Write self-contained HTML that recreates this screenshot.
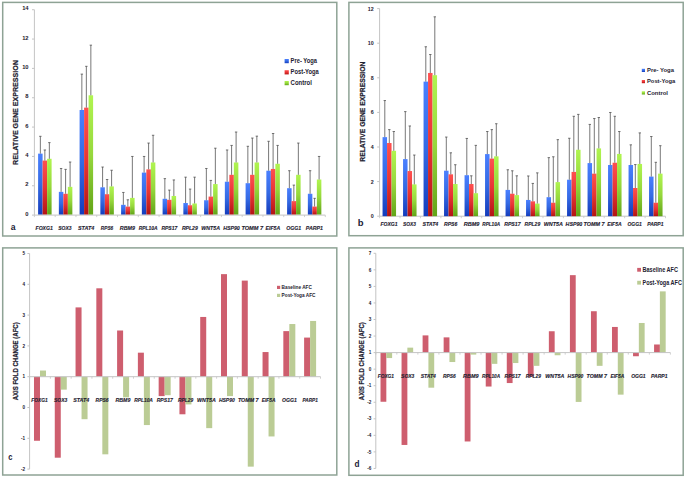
<!DOCTYPE html>
<html><head><meta charset="utf-8"><title>Gene expression charts</title>
<style>
html,body{margin:0;padding:0;background:#fff;}
body{width:685px;height:478px;overflow:hidden;}
svg{display:block;font-family:"Liberation Sans", sans-serif;}
</style></head>
<body>
<svg width="685" height="478" viewBox="0 0 685 478">
<rect x="0" y="0" width="685" height="478" fill="#fff"/>
<defs>
<linearGradient id="gb" x1="0" y1="0" x2="0" y2="1"><stop offset="0" stop-color="#4a80ff"/><stop offset="0.5" stop-color="#346ae4"/><stop offset="1" stop-color="#143cbc"/></linearGradient>
<linearGradient id="gr" x1="0" y1="0" x2="0" y2="1"><stop offset="0" stop-color="#ff5050"/><stop offset="0.5" stop-color="#e83434"/><stop offset="1" stop-color="#b21414"/></linearGradient>
<linearGradient id="gg" x1="0" y1="0" x2="0" y2="1"><stop offset="0" stop-color="#b0f550"/><stop offset="0.5" stop-color="#96d83c"/><stop offset="1" stop-color="#62a418"/></linearGradient>
</defs>
<rect x="2.7" y="2.4" width="334.1" height="233.6" fill="none" stroke="#8ea395" stroke-width="1.5"/>
<rect x="348.9" y="2.4" width="334.30000000000007" height="233.29999999999998" fill="none" stroke="#8ea395" stroke-width="1.5"/>
<rect x="2.7" y="247.9" width="334.1" height="227.1" fill="none" stroke="#8ea395" stroke-width="1.5"/>
<rect x="348.9" y="247.9" width="334.30000000000007" height="227.4" fill="none" stroke="#8ea395" stroke-width="1.5"/>
<line x1="34.40" y1="9.72" x2="34.40" y2="215.10" stroke="#c4c4c4" stroke-width="1"/>
<line x1="32.00" y1="215.10" x2="34.40" y2="215.10" stroke="#c4c4c4" stroke-width="1"/>
<text x="28.60" y="215.69" font-size="5.8" font-weight="bold" text-anchor="end" fill="#1e2130">0</text>
<line x1="32.00" y1="185.76" x2="34.40" y2="185.76" stroke="#c4c4c4" stroke-width="1"/>
<text x="28.60" y="186.35" font-size="5.8" font-weight="bold" text-anchor="end" fill="#1e2130">2</text>
<line x1="32.00" y1="156.42" x2="34.40" y2="156.42" stroke="#c4c4c4" stroke-width="1"/>
<text x="28.60" y="157.01" font-size="5.8" font-weight="bold" text-anchor="end" fill="#1e2130">4</text>
<line x1="32.00" y1="127.08" x2="34.40" y2="127.08" stroke="#c4c4c4" stroke-width="1"/>
<text x="28.60" y="127.67" font-size="5.8" font-weight="bold" text-anchor="end" fill="#1e2130">6</text>
<line x1="32.00" y1="97.74" x2="34.40" y2="97.74" stroke="#c4c4c4" stroke-width="1"/>
<text x="28.60" y="98.33" font-size="5.8" font-weight="bold" text-anchor="end" fill="#1e2130">8</text>
<line x1="32.00" y1="68.40" x2="34.40" y2="68.40" stroke="#c4c4c4" stroke-width="1"/>
<text x="28.60" y="68.99" font-size="5.8" font-weight="bold" text-anchor="end" fill="#1e2130">10</text>
<line x1="32.00" y1="39.06" x2="34.40" y2="39.06" stroke="#c4c4c4" stroke-width="1"/>
<text x="28.60" y="39.65" font-size="5.8" font-weight="bold" text-anchor="end" fill="#1e2130">12</text>
<line x1="32.00" y1="9.72" x2="34.40" y2="9.72" stroke="#c4c4c4" stroke-width="1"/>
<text x="28.60" y="10.31" font-size="5.8" font-weight="bold" text-anchor="end" fill="#1e2130">14</text>
<line x1="34.40" y1="215.10" x2="325.30" y2="215.10" stroke="#c4c4c4" stroke-width="1"/>
<line x1="34.40" y1="215.10" x2="34.40" y2="217.10" stroke="#c4c4c4" stroke-width="0.8"/>
<line x1="55.18" y1="215.10" x2="55.18" y2="217.10" stroke="#c4c4c4" stroke-width="0.8"/>
<line x1="75.96" y1="215.10" x2="75.96" y2="217.10" stroke="#c4c4c4" stroke-width="0.8"/>
<line x1="96.74" y1="215.10" x2="96.74" y2="217.10" stroke="#c4c4c4" stroke-width="0.8"/>
<line x1="117.51" y1="215.10" x2="117.51" y2="217.10" stroke="#c4c4c4" stroke-width="0.8"/>
<line x1="138.29" y1="215.10" x2="138.29" y2="217.10" stroke="#c4c4c4" stroke-width="0.8"/>
<line x1="159.07" y1="215.10" x2="159.07" y2="217.10" stroke="#c4c4c4" stroke-width="0.8"/>
<line x1="179.85" y1="215.10" x2="179.85" y2="217.10" stroke="#c4c4c4" stroke-width="0.8"/>
<line x1="200.63" y1="215.10" x2="200.63" y2="217.10" stroke="#c4c4c4" stroke-width="0.8"/>
<line x1="221.41" y1="215.10" x2="221.41" y2="217.10" stroke="#c4c4c4" stroke-width="0.8"/>
<line x1="242.19" y1="215.10" x2="242.19" y2="217.10" stroke="#c4c4c4" stroke-width="0.8"/>
<line x1="262.96" y1="215.10" x2="262.96" y2="217.10" stroke="#c4c4c4" stroke-width="0.8"/>
<line x1="283.74" y1="215.10" x2="283.74" y2="217.10" stroke="#c4c4c4" stroke-width="0.8"/>
<line x1="304.52" y1="215.10" x2="304.52" y2="217.10" stroke="#c4c4c4" stroke-width="0.8"/>
<line x1="325.30" y1="215.10" x2="325.30" y2="217.10" stroke="#c4c4c4" stroke-width="0.8"/>
<rect x="38.10" y="153.64" width="4.50" height="60.86" fill="url(#gb)"/>
<rect x="42.60" y="160.55" width="4.50" height="53.95" fill="url(#gr)"/>
<rect x="47.10" y="158.79" width="4.50" height="55.71" fill="url(#gg)"/>
<line x1="40.35" y1="153.64" x2="40.35" y2="136.30" stroke="#4a4a4a" stroke-width="0.75"/>
<line x1="39.15" y1="136.30" x2="41.55" y2="136.30" stroke="#4a4a4a" stroke-width="0.75"/>
<line x1="44.85" y1="160.55" x2="44.85" y2="149.97" stroke="#4a4a4a" stroke-width="0.75"/>
<line x1="43.65" y1="149.97" x2="46.05" y2="149.97" stroke="#4a4a4a" stroke-width="0.75"/>
<line x1="49.35" y1="158.79" x2="49.35" y2="142.62" stroke="#4a4a4a" stroke-width="0.75"/>
<line x1="48.15" y1="142.62" x2="50.55" y2="142.62" stroke="#4a4a4a" stroke-width="0.75"/>
<rect x="58.85" y="191.86" width="4.50" height="22.64" fill="url(#gb)"/>
<rect x="63.35" y="193.77" width="4.50" height="20.73" fill="url(#gr)"/>
<rect x="67.85" y="186.86" width="4.50" height="27.64" fill="url(#gg)"/>
<line x1="61.10" y1="191.86" x2="61.10" y2="168.49" stroke="#4a4a4a" stroke-width="0.75"/>
<line x1="59.90" y1="168.49" x2="62.30" y2="168.49" stroke="#4a4a4a" stroke-width="0.75"/>
<line x1="65.60" y1="193.77" x2="65.60" y2="169.37" stroke="#4a4a4a" stroke-width="0.75"/>
<line x1="64.40" y1="169.37" x2="66.80" y2="169.37" stroke="#4a4a4a" stroke-width="0.75"/>
<line x1="70.10" y1="186.86" x2="70.10" y2="162.02" stroke="#4a4a4a" stroke-width="0.75"/>
<line x1="68.90" y1="162.02" x2="71.30" y2="162.02" stroke="#4a4a4a" stroke-width="0.75"/>
<rect x="79.60" y="109.98" width="4.50" height="104.52" fill="url(#gb)"/>
<rect x="84.10" y="107.63" width="4.50" height="106.87" fill="url(#gr)"/>
<rect x="88.60" y="95.28" width="4.50" height="119.22" fill="url(#gg)"/>
<line x1="81.85" y1="109.98" x2="81.85" y2="74.12" stroke="#4a4a4a" stroke-width="0.75"/>
<line x1="80.65" y1="74.12" x2="83.05" y2="74.12" stroke="#4a4a4a" stroke-width="0.75"/>
<line x1="86.35" y1="107.63" x2="86.35" y2="66.32" stroke="#4a4a4a" stroke-width="0.75"/>
<line x1="85.15" y1="66.32" x2="87.55" y2="66.32" stroke="#4a4a4a" stroke-width="0.75"/>
<line x1="90.85" y1="95.28" x2="90.85" y2="45.16" stroke="#4a4a4a" stroke-width="0.75"/>
<line x1="89.65" y1="45.16" x2="92.05" y2="45.16" stroke="#4a4a4a" stroke-width="0.75"/>
<rect x="100.35" y="187.31" width="4.50" height="27.19" fill="url(#gb)"/>
<rect x="104.85" y="194.21" width="4.50" height="20.29" fill="url(#gr)"/>
<rect x="109.35" y="186.42" width="4.50" height="28.08" fill="url(#gg)"/>
<line x1="102.60" y1="187.31" x2="102.60" y2="167.02" stroke="#4a4a4a" stroke-width="0.75"/>
<line x1="101.40" y1="167.02" x2="103.80" y2="167.02" stroke="#4a4a4a" stroke-width="0.75"/>
<line x1="107.10" y1="194.21" x2="107.10" y2="179.51" stroke="#4a4a4a" stroke-width="0.75"/>
<line x1="105.90" y1="179.51" x2="108.30" y2="179.51" stroke="#4a4a4a" stroke-width="0.75"/>
<line x1="111.60" y1="186.42" x2="111.60" y2="170.25" stroke="#4a4a4a" stroke-width="0.75"/>
<line x1="110.40" y1="170.25" x2="112.80" y2="170.25" stroke="#4a4a4a" stroke-width="0.75"/>
<rect x="121.10" y="204.80" width="4.50" height="9.70" fill="url(#gb)"/>
<rect x="125.60" y="206.56" width="4.50" height="7.94" fill="url(#gr)"/>
<rect x="130.10" y="197.89" width="4.50" height="16.61" fill="url(#gg)"/>
<line x1="123.35" y1="204.80" x2="123.35" y2="192.45" stroke="#4a4a4a" stroke-width="0.75"/>
<line x1="122.15" y1="192.45" x2="124.55" y2="192.45" stroke="#4a4a4a" stroke-width="0.75"/>
<line x1="127.85" y1="206.56" x2="127.85" y2="199.80" stroke="#4a4a4a" stroke-width="0.75"/>
<line x1="126.65" y1="199.80" x2="129.05" y2="199.80" stroke="#4a4a4a" stroke-width="0.75"/>
<line x1="132.35" y1="197.89" x2="132.35" y2="156.44" stroke="#4a4a4a" stroke-width="0.75"/>
<line x1="131.15" y1="156.44" x2="133.55" y2="156.44" stroke="#4a4a4a" stroke-width="0.75"/>
<rect x="141.85" y="172.61" width="4.50" height="41.89" fill="url(#gb)"/>
<rect x="146.35" y="169.37" width="4.50" height="45.13" fill="url(#gr)"/>
<rect x="150.85" y="162.46" width="4.50" height="52.04" fill="url(#gg)"/>
<line x1="144.10" y1="172.61" x2="144.10" y2="156.44" stroke="#4a4a4a" stroke-width="0.75"/>
<line x1="142.90" y1="156.44" x2="145.30" y2="156.44" stroke="#4a4a4a" stroke-width="0.75"/>
<line x1="148.60" y1="169.37" x2="148.60" y2="143.06" stroke="#4a4a4a" stroke-width="0.75"/>
<line x1="147.40" y1="143.06" x2="149.80" y2="143.06" stroke="#4a4a4a" stroke-width="0.75"/>
<line x1="153.10" y1="162.46" x2="153.10" y2="135.27" stroke="#4a4a4a" stroke-width="0.75"/>
<line x1="151.90" y1="135.27" x2="154.30" y2="135.27" stroke="#4a4a4a" stroke-width="0.75"/>
<rect x="162.60" y="198.77" width="4.50" height="15.73" fill="url(#gb)"/>
<rect x="167.10" y="199.80" width="4.50" height="14.70" fill="url(#gr)"/>
<rect x="171.60" y="195.98" width="4.50" height="18.52" fill="url(#gg)"/>
<line x1="164.85" y1="198.77" x2="164.85" y2="178.63" stroke="#4a4a4a" stroke-width="0.75"/>
<line x1="163.65" y1="178.63" x2="166.05" y2="178.63" stroke="#4a4a4a" stroke-width="0.75"/>
<line x1="169.35" y1="199.80" x2="169.35" y2="190.10" stroke="#4a4a4a" stroke-width="0.75"/>
<line x1="168.15" y1="190.10" x2="170.55" y2="190.10" stroke="#4a4a4a" stroke-width="0.75"/>
<line x1="173.85" y1="195.98" x2="173.85" y2="179.95" stroke="#4a4a4a" stroke-width="0.75"/>
<line x1="172.65" y1="179.95" x2="175.05" y2="179.95" stroke="#4a4a4a" stroke-width="0.75"/>
<rect x="183.35" y="203.03" width="4.50" height="11.47" fill="url(#gb)"/>
<rect x="187.85" y="205.24" width="4.50" height="9.26" fill="url(#gr)"/>
<rect x="192.35" y="203.47" width="4.50" height="11.03" fill="url(#gg)"/>
<line x1="185.60" y1="203.03" x2="185.60" y2="177.16" stroke="#4a4a4a" stroke-width="0.75"/>
<line x1="184.40" y1="177.16" x2="186.80" y2="177.16" stroke="#4a4a4a" stroke-width="0.75"/>
<line x1="190.10" y1="205.24" x2="190.10" y2="189.07" stroke="#4a4a4a" stroke-width="0.75"/>
<line x1="188.90" y1="189.07" x2="191.30" y2="189.07" stroke="#4a4a4a" stroke-width="0.75"/>
<line x1="194.60" y1="203.47" x2="194.60" y2="177.16" stroke="#4a4a4a" stroke-width="0.75"/>
<line x1="193.40" y1="177.16" x2="195.80" y2="177.16" stroke="#4a4a4a" stroke-width="0.75"/>
<rect x="204.10" y="200.24" width="4.50" height="14.26" fill="url(#gb)"/>
<rect x="208.60" y="196.57" width="4.50" height="17.93" fill="url(#gr)"/>
<rect x="213.10" y="184.07" width="4.50" height="30.43" fill="url(#gg)"/>
<line x1="206.35" y1="200.24" x2="206.35" y2="168.49" stroke="#4a4a4a" stroke-width="0.75"/>
<line x1="205.15" y1="168.49" x2="207.55" y2="168.49" stroke="#4a4a4a" stroke-width="0.75"/>
<line x1="210.85" y1="196.57" x2="210.85" y2="180.40" stroke="#4a4a4a" stroke-width="0.75"/>
<line x1="209.65" y1="180.40" x2="212.05" y2="180.40" stroke="#4a4a4a" stroke-width="0.75"/>
<line x1="215.35" y1="184.07" x2="215.35" y2="148.20" stroke="#4a4a4a" stroke-width="0.75"/>
<line x1="214.15" y1="148.20" x2="216.55" y2="148.20" stroke="#4a4a4a" stroke-width="0.75"/>
<rect x="224.85" y="181.72" width="4.50" height="32.78" fill="url(#gb)"/>
<rect x="229.35" y="174.81" width="4.50" height="39.69" fill="url(#gr)"/>
<rect x="233.85" y="162.46" width="4.50" height="52.04" fill="url(#gg)"/>
<line x1="227.10" y1="181.72" x2="227.10" y2="149.97" stroke="#4a4a4a" stroke-width="0.75"/>
<line x1="225.90" y1="149.97" x2="228.30" y2="149.97" stroke="#4a4a4a" stroke-width="0.75"/>
<line x1="231.60" y1="174.81" x2="231.60" y2="145.41" stroke="#4a4a4a" stroke-width="0.75"/>
<line x1="230.40" y1="145.41" x2="232.80" y2="145.41" stroke="#4a4a4a" stroke-width="0.75"/>
<line x1="236.10" y1="162.46" x2="236.10" y2="132.03" stroke="#4a4a4a" stroke-width="0.75"/>
<line x1="234.90" y1="132.03" x2="237.30" y2="132.03" stroke="#4a4a4a" stroke-width="0.75"/>
<rect x="245.60" y="183.19" width="4.50" height="31.31" fill="url(#gb)"/>
<rect x="250.10" y="174.81" width="4.50" height="39.69" fill="url(#gr)"/>
<rect x="254.60" y="162.46" width="4.50" height="52.04" fill="url(#gg)"/>
<line x1="247.85" y1="183.19" x2="247.85" y2="146.29" stroke="#4a4a4a" stroke-width="0.75"/>
<line x1="246.65" y1="146.29" x2="249.05" y2="146.29" stroke="#4a4a4a" stroke-width="0.75"/>
<line x1="252.35" y1="174.81" x2="252.35" y2="138.06" stroke="#4a4a4a" stroke-width="0.75"/>
<line x1="251.15" y1="138.06" x2="253.55" y2="138.06" stroke="#4a4a4a" stroke-width="0.75"/>
<line x1="256.85" y1="162.46" x2="256.85" y2="136.15" stroke="#4a4a4a" stroke-width="0.75"/>
<line x1="255.65" y1="136.15" x2="258.05" y2="136.15" stroke="#4a4a4a" stroke-width="0.75"/>
<rect x="266.35" y="170.69" width="4.50" height="43.81" fill="url(#gb)"/>
<rect x="270.85" y="168.93" width="4.50" height="45.57" fill="url(#gr)"/>
<rect x="275.35" y="163.78" width="4.50" height="50.72" fill="url(#gg)"/>
<line x1="268.60" y1="170.69" x2="268.60" y2="141.29" stroke="#4a4a4a" stroke-width="0.75"/>
<line x1="267.40" y1="141.29" x2="269.80" y2="141.29" stroke="#4a4a4a" stroke-width="0.75"/>
<line x1="273.10" y1="168.93" x2="273.10" y2="133.50" stroke="#4a4a4a" stroke-width="0.75"/>
<line x1="271.90" y1="133.50" x2="274.30" y2="133.50" stroke="#4a4a4a" stroke-width="0.75"/>
<line x1="277.60" y1="163.78" x2="277.60" y2="145.41" stroke="#4a4a4a" stroke-width="0.75"/>
<line x1="276.40" y1="145.41" x2="278.80" y2="145.41" stroke="#4a4a4a" stroke-width="0.75"/>
<rect x="287.10" y="188.19" width="4.50" height="26.31" fill="url(#gb)"/>
<rect x="291.60" y="201.12" width="4.50" height="13.38" fill="url(#gr)"/>
<rect x="296.10" y="174.81" width="4.50" height="39.69" fill="url(#gg)"/>
<line x1="289.35" y1="188.19" x2="289.35" y2="170.69" stroke="#4a4a4a" stroke-width="0.75"/>
<line x1="288.15" y1="170.69" x2="290.55" y2="170.69" stroke="#4a4a4a" stroke-width="0.75"/>
<line x1="293.85" y1="201.12" x2="293.85" y2="185.10" stroke="#4a4a4a" stroke-width="0.75"/>
<line x1="292.65" y1="185.10" x2="295.05" y2="185.10" stroke="#4a4a4a" stroke-width="0.75"/>
<line x1="298.35" y1="174.81" x2="298.35" y2="143.06" stroke="#4a4a4a" stroke-width="0.75"/>
<line x1="297.15" y1="143.06" x2="299.55" y2="143.06" stroke="#4a4a4a" stroke-width="0.75"/>
<rect x="307.85" y="193.77" width="4.50" height="20.73" fill="url(#gb)"/>
<rect x="312.35" y="206.56" width="4.50" height="7.94" fill="url(#gr)"/>
<rect x="316.85" y="179.51" width="4.50" height="34.99" fill="url(#gg)"/>
<line x1="310.10" y1="193.77" x2="310.10" y2="170.69" stroke="#4a4a4a" stroke-width="0.75"/>
<line x1="308.90" y1="170.69" x2="311.30" y2="170.69" stroke="#4a4a4a" stroke-width="0.75"/>
<line x1="314.60" y1="206.56" x2="314.60" y2="198.33" stroke="#4a4a4a" stroke-width="0.75"/>
<line x1="313.40" y1="198.33" x2="315.80" y2="198.33" stroke="#4a4a4a" stroke-width="0.75"/>
<line x1="319.10" y1="179.51" x2="319.10" y2="156.44" stroke="#4a4a4a" stroke-width="0.75"/>
<line x1="317.90" y1="156.44" x2="320.30" y2="156.44" stroke="#4a4a4a" stroke-width="0.75"/>
<line x1="379.60" y1="8.60" x2="379.60" y2="216.20" stroke="#c4c4c4" stroke-width="1"/>
<line x1="377.20" y1="216.20" x2="379.60" y2="216.20" stroke="#c4c4c4" stroke-width="1"/>
<text x="373.60" y="218.11" font-size="5.3" font-weight="bold" text-anchor="end" fill="#1e2130">0</text>
<line x1="377.20" y1="181.60" x2="379.60" y2="181.60" stroke="#c4c4c4" stroke-width="1"/>
<text x="373.60" y="183.51" font-size="5.3" font-weight="bold" text-anchor="end" fill="#1e2130">2</text>
<line x1="377.20" y1="147.00" x2="379.60" y2="147.00" stroke="#c4c4c4" stroke-width="1"/>
<text x="373.60" y="148.91" font-size="5.3" font-weight="bold" text-anchor="end" fill="#1e2130">4</text>
<line x1="377.20" y1="112.40" x2="379.60" y2="112.40" stroke="#c4c4c4" stroke-width="1"/>
<text x="373.60" y="114.31" font-size="5.3" font-weight="bold" text-anchor="end" fill="#1e2130">6</text>
<line x1="377.20" y1="77.80" x2="379.60" y2="77.80" stroke="#c4c4c4" stroke-width="1"/>
<text x="373.60" y="79.71" font-size="5.3" font-weight="bold" text-anchor="end" fill="#1e2130">8</text>
<line x1="377.20" y1="43.20" x2="379.60" y2="43.20" stroke="#c4c4c4" stroke-width="1"/>
<text x="373.60" y="45.11" font-size="5.3" font-weight="bold" text-anchor="end" fill="#1e2130">10</text>
<line x1="377.20" y1="8.60" x2="379.60" y2="8.60" stroke="#c4c4c4" stroke-width="1"/>
<text x="373.60" y="10.51" font-size="5.3" font-weight="bold" text-anchor="end" fill="#1e2130">12</text>
<line x1="379.60" y1="216.20" x2="665.50" y2="216.20" stroke="#c4c4c4" stroke-width="1"/>
<line x1="379.60" y1="216.20" x2="379.60" y2="218.20" stroke="#c4c4c4" stroke-width="0.8"/>
<line x1="400.02" y1="216.20" x2="400.02" y2="218.20" stroke="#c4c4c4" stroke-width="0.8"/>
<line x1="420.44" y1="216.20" x2="420.44" y2="218.20" stroke="#c4c4c4" stroke-width="0.8"/>
<line x1="440.86" y1="216.20" x2="440.86" y2="218.20" stroke="#c4c4c4" stroke-width="0.8"/>
<line x1="461.29" y1="216.20" x2="461.29" y2="218.20" stroke="#c4c4c4" stroke-width="0.8"/>
<line x1="481.71" y1="216.20" x2="481.71" y2="218.20" stroke="#c4c4c4" stroke-width="0.8"/>
<line x1="502.13" y1="216.20" x2="502.13" y2="218.20" stroke="#c4c4c4" stroke-width="0.8"/>
<line x1="522.55" y1="216.20" x2="522.55" y2="218.20" stroke="#c4c4c4" stroke-width="0.8"/>
<line x1="542.97" y1="216.20" x2="542.97" y2="218.20" stroke="#c4c4c4" stroke-width="0.8"/>
<line x1="563.39" y1="216.20" x2="563.39" y2="218.20" stroke="#c4c4c4" stroke-width="0.8"/>
<line x1="583.81" y1="216.20" x2="583.81" y2="218.20" stroke="#c4c4c4" stroke-width="0.8"/>
<line x1="604.24" y1="216.20" x2="604.24" y2="218.20" stroke="#c4c4c4" stroke-width="0.8"/>
<line x1="624.66" y1="216.20" x2="624.66" y2="218.20" stroke="#c4c4c4" stroke-width="0.8"/>
<line x1="645.08" y1="216.20" x2="645.08" y2="218.20" stroke="#c4c4c4" stroke-width="0.8"/>
<line x1="665.50" y1="216.20" x2="665.50" y2="218.20" stroke="#c4c4c4" stroke-width="0.8"/>
<rect x="382.55" y="137.14" width="4.50" height="79.06" fill="url(#gb)"/>
<rect x="387.05" y="143.02" width="4.50" height="73.18" fill="url(#gr)"/>
<rect x="391.55" y="150.81" width="4.50" height="65.39" fill="url(#gg)"/>
<line x1="384.80" y1="137.14" x2="384.80" y2="100.55" stroke="#4a4a4a" stroke-width="0.75"/>
<line x1="383.60" y1="100.55" x2="386.00" y2="100.55" stroke="#4a4a4a" stroke-width="0.75"/>
<line x1="389.30" y1="143.02" x2="389.30" y2="129.61" stroke="#4a4a4a" stroke-width="0.75"/>
<line x1="388.10" y1="129.61" x2="390.50" y2="129.61" stroke="#4a4a4a" stroke-width="0.75"/>
<line x1="393.80" y1="150.81" x2="393.80" y2="131.52" stroke="#4a4a4a" stroke-width="0.75"/>
<line x1="392.60" y1="131.52" x2="395.00" y2="131.52" stroke="#4a4a4a" stroke-width="0.75"/>
<rect x="403.05" y="159.11" width="4.50" height="57.09" fill="url(#gb)"/>
<rect x="407.55" y="171.05" width="4.50" height="45.15" fill="url(#gr)"/>
<rect x="412.05" y="184.37" width="4.50" height="31.83" fill="url(#gg)"/>
<line x1="405.30" y1="159.11" x2="405.30" y2="111.62" stroke="#4a4a4a" stroke-width="0.75"/>
<line x1="404.10" y1="111.62" x2="406.50" y2="111.62" stroke="#4a4a4a" stroke-width="0.75"/>
<line x1="409.80" y1="171.05" x2="409.80" y2="125.98" stroke="#4a4a4a" stroke-width="0.75"/>
<line x1="408.60" y1="125.98" x2="411.00" y2="125.98" stroke="#4a4a4a" stroke-width="0.75"/>
<line x1="414.30" y1="184.37" x2="414.30" y2="155.04" stroke="#4a4a4a" stroke-width="0.75"/>
<line x1="413.10" y1="155.04" x2="415.50" y2="155.04" stroke="#4a4a4a" stroke-width="0.75"/>
<rect x="423.55" y="81.61" width="4.50" height="134.59" fill="url(#gb)"/>
<rect x="428.05" y="72.96" width="4.50" height="143.24" fill="url(#gr)"/>
<rect x="432.55" y="75.20" width="4.50" height="141.00" fill="url(#gg)"/>
<line x1="425.80" y1="81.61" x2="425.80" y2="46.75" stroke="#4a4a4a" stroke-width="0.75"/>
<line x1="424.60" y1="46.75" x2="427.00" y2="46.75" stroke="#4a4a4a" stroke-width="0.75"/>
<line x1="430.30" y1="72.96" x2="430.30" y2="54.53" stroke="#4a4a4a" stroke-width="0.75"/>
<line x1="429.10" y1="54.53" x2="431.50" y2="54.53" stroke="#4a4a4a" stroke-width="0.75"/>
<line x1="434.80" y1="75.20" x2="434.80" y2="16.82" stroke="#4a4a4a" stroke-width="0.75"/>
<line x1="433.60" y1="16.82" x2="436.00" y2="16.82" stroke="#4a4a4a" stroke-width="0.75"/>
<rect x="444.05" y="170.70" width="4.50" height="45.50" fill="url(#gb)"/>
<rect x="448.55" y="174.33" width="4.50" height="41.87" fill="url(#gr)"/>
<rect x="453.05" y="184.02" width="4.50" height="32.18" fill="url(#gg)"/>
<line x1="446.30" y1="170.70" x2="446.30" y2="137.05" stroke="#4a4a4a" stroke-width="0.75"/>
<line x1="445.10" y1="137.05" x2="447.50" y2="137.05" stroke="#4a4a4a" stroke-width="0.75"/>
<line x1="450.80" y1="174.33" x2="450.80" y2="152.80" stroke="#4a4a4a" stroke-width="0.75"/>
<line x1="449.60" y1="152.80" x2="452.00" y2="152.80" stroke="#4a4a4a" stroke-width="0.75"/>
<line x1="455.30" y1="184.02" x2="455.30" y2="164.73" stroke="#4a4a4a" stroke-width="0.75"/>
<line x1="454.10" y1="164.73" x2="456.50" y2="164.73" stroke="#4a4a4a" stroke-width="0.75"/>
<rect x="464.55" y="175.20" width="4.50" height="41.00" fill="url(#gb)"/>
<rect x="469.05" y="184.02" width="4.50" height="32.18" fill="url(#gr)"/>
<rect x="473.55" y="193.19" width="4.50" height="23.01" fill="url(#gg)"/>
<line x1="466.80" y1="175.20" x2="466.80" y2="138.44" stroke="#4a4a4a" stroke-width="0.75"/>
<line x1="465.60" y1="138.44" x2="468.00" y2="138.44" stroke="#4a4a4a" stroke-width="0.75"/>
<line x1="471.30" y1="184.02" x2="471.30" y2="175.80" stroke="#4a4a4a" stroke-width="0.75"/>
<line x1="470.10" y1="175.80" x2="472.50" y2="175.80" stroke="#4a4a4a" stroke-width="0.75"/>
<line x1="475.80" y1="193.19" x2="475.80" y2="145.36" stroke="#4a4a4a" stroke-width="0.75"/>
<line x1="474.60" y1="145.36" x2="477.00" y2="145.36" stroke="#4a4a4a" stroke-width="0.75"/>
<rect x="485.05" y="154.09" width="4.50" height="62.11" fill="url(#gb)"/>
<rect x="489.55" y="158.59" width="4.50" height="57.61" fill="url(#gr)"/>
<rect x="494.05" y="156.34" width="4.50" height="59.86" fill="url(#gg)"/>
<line x1="487.30" y1="154.09" x2="487.30" y2="131.52" stroke="#4a4a4a" stroke-width="0.75"/>
<line x1="486.10" y1="131.52" x2="488.50" y2="131.52" stroke="#4a4a4a" stroke-width="0.75"/>
<line x1="491.80" y1="158.59" x2="491.80" y2="129.61" stroke="#4a4a4a" stroke-width="0.75"/>
<line x1="490.60" y1="129.61" x2="493.00" y2="129.61" stroke="#4a4a4a" stroke-width="0.75"/>
<line x1="496.30" y1="156.34" x2="496.30" y2="123.73" stroke="#4a4a4a" stroke-width="0.75"/>
<line x1="495.10" y1="123.73" x2="497.50" y2="123.73" stroke="#4a4a4a" stroke-width="0.75"/>
<rect x="505.55" y="189.90" width="4.50" height="26.30" fill="url(#gb)"/>
<rect x="510.05" y="193.71" width="4.50" height="22.49" fill="url(#gr)"/>
<rect x="514.55" y="195.09" width="4.50" height="21.11" fill="url(#gg)"/>
<line x1="507.80" y1="189.90" x2="507.80" y2="169.75" stroke="#4a4a4a" stroke-width="0.75"/>
<line x1="506.60" y1="169.75" x2="509.00" y2="169.75" stroke="#4a4a4a" stroke-width="0.75"/>
<line x1="512.30" y1="193.71" x2="512.30" y2="170.79" stroke="#4a4a4a" stroke-width="0.75"/>
<line x1="511.10" y1="170.79" x2="513.50" y2="170.79" stroke="#4a4a4a" stroke-width="0.75"/>
<line x1="516.80" y1="195.09" x2="516.80" y2="175.80" stroke="#4a4a4a" stroke-width="0.75"/>
<line x1="515.60" y1="175.80" x2="518.00" y2="175.80" stroke="#4a4a4a" stroke-width="0.75"/>
<rect x="526.05" y="199.94" width="4.50" height="16.26" fill="url(#gb)"/>
<rect x="530.55" y="201.32" width="4.50" height="14.88" fill="url(#gr)"/>
<rect x="535.05" y="203.57" width="4.50" height="12.63" fill="url(#gg)"/>
<line x1="528.30" y1="199.94" x2="528.30" y2="175.98" stroke="#4a4a4a" stroke-width="0.75"/>
<line x1="527.10" y1="175.98" x2="529.50" y2="175.98" stroke="#4a4a4a" stroke-width="0.75"/>
<line x1="532.80" y1="201.32" x2="532.80" y2="183.42" stroke="#4a4a4a" stroke-width="0.75"/>
<line x1="531.60" y1="183.42" x2="534.00" y2="183.42" stroke="#4a4a4a" stroke-width="0.75"/>
<line x1="537.30" y1="203.57" x2="537.30" y2="172.86" stroke="#4a4a4a" stroke-width="0.75"/>
<line x1="536.10" y1="172.86" x2="538.50" y2="172.86" stroke="#4a4a4a" stroke-width="0.75"/>
<rect x="546.55" y="197.17" width="4.50" height="19.03" fill="url(#gb)"/>
<rect x="551.05" y="202.71" width="4.50" height="13.49" fill="url(#gr)"/>
<rect x="555.55" y="182.12" width="4.50" height="34.08" fill="url(#gg)"/>
<line x1="548.80" y1="197.17" x2="548.80" y2="157.64" stroke="#4a4a4a" stroke-width="0.75"/>
<line x1="547.60" y1="157.64" x2="550.00" y2="157.64" stroke="#4a4a4a" stroke-width="0.75"/>
<line x1="553.30" y1="202.71" x2="553.30" y2="156.77" stroke="#4a4a4a" stroke-width="0.75"/>
<line x1="552.10" y1="156.77" x2="554.50" y2="156.77" stroke="#4a4a4a" stroke-width="0.75"/>
<line x1="557.80" y1="182.12" x2="557.80" y2="139.65" stroke="#4a4a4a" stroke-width="0.75"/>
<line x1="556.60" y1="139.65" x2="559.00" y2="139.65" stroke="#4a4a4a" stroke-width="0.75"/>
<rect x="567.05" y="179.70" width="4.50" height="36.50" fill="url(#gb)"/>
<rect x="571.55" y="171.91" width="4.50" height="44.29" fill="url(#gr)"/>
<rect x="576.05" y="149.77" width="4.50" height="66.43" fill="url(#gg)"/>
<line x1="569.30" y1="179.70" x2="569.30" y2="138.26" stroke="#4a4a4a" stroke-width="0.75"/>
<line x1="568.10" y1="138.26" x2="570.50" y2="138.26" stroke="#4a4a4a" stroke-width="0.75"/>
<line x1="573.80" y1="171.91" x2="573.80" y2="116.29" stroke="#4a4a4a" stroke-width="0.75"/>
<line x1="572.60" y1="116.29" x2="575.00" y2="116.29" stroke="#4a4a4a" stroke-width="0.75"/>
<line x1="578.30" y1="149.77" x2="578.30" y2="114.39" stroke="#4a4a4a" stroke-width="0.75"/>
<line x1="577.10" y1="114.39" x2="579.50" y2="114.39" stroke="#4a4a4a" stroke-width="0.75"/>
<rect x="587.55" y="163.09" width="4.50" height="53.11" fill="url(#gb)"/>
<rect x="592.05" y="173.64" width="4.50" height="42.56" fill="url(#gr)"/>
<rect x="596.55" y="148.38" width="4.50" height="67.82" fill="url(#gg)"/>
<line x1="589.80" y1="163.09" x2="589.80" y2="124.42" stroke="#4a4a4a" stroke-width="0.75"/>
<line x1="588.60" y1="124.42" x2="591.00" y2="124.42" stroke="#4a4a4a" stroke-width="0.75"/>
<line x1="594.30" y1="173.64" x2="594.30" y2="118.54" stroke="#4a4a4a" stroke-width="0.75"/>
<line x1="593.10" y1="118.54" x2="595.50" y2="118.54" stroke="#4a4a4a" stroke-width="0.75"/>
<line x1="598.80" y1="148.38" x2="598.80" y2="117.50" stroke="#4a4a4a" stroke-width="0.75"/>
<line x1="597.60" y1="117.50" x2="600.00" y2="117.50" stroke="#4a4a4a" stroke-width="0.75"/>
<rect x="608.05" y="164.99" width="4.50" height="51.21" fill="url(#gb)"/>
<rect x="612.55" y="162.74" width="4.50" height="53.46" fill="url(#gr)"/>
<rect x="617.05" y="153.92" width="4.50" height="62.28" fill="url(#gg)"/>
<line x1="610.30" y1="164.99" x2="610.30" y2="112.49" stroke="#4a4a4a" stroke-width="0.75"/>
<line x1="609.10" y1="112.49" x2="611.50" y2="112.49" stroke="#4a4a4a" stroke-width="0.75"/>
<line x1="614.80" y1="162.74" x2="614.80" y2="116.29" stroke="#4a4a4a" stroke-width="0.75"/>
<line x1="613.60" y1="116.29" x2="616.00" y2="116.29" stroke="#4a4a4a" stroke-width="0.75"/>
<line x1="619.30" y1="153.92" x2="619.30" y2="131.52" stroke="#4a4a4a" stroke-width="0.75"/>
<line x1="618.10" y1="131.52" x2="620.50" y2="131.52" stroke="#4a4a4a" stroke-width="0.75"/>
<rect x="628.55" y="164.99" width="4.50" height="51.21" fill="url(#gb)"/>
<rect x="633.05" y="188.00" width="4.50" height="28.20" fill="url(#gr)"/>
<rect x="637.55" y="163.95" width="4.50" height="52.25" fill="url(#gg)"/>
<line x1="630.80" y1="164.99" x2="630.80" y2="144.84" stroke="#4a4a4a" stroke-width="0.75"/>
<line x1="629.60" y1="144.84" x2="632.00" y2="144.84" stroke="#4a4a4a" stroke-width="0.75"/>
<line x1="635.30" y1="188.00" x2="635.30" y2="164.56" stroke="#4a4a4a" stroke-width="0.75"/>
<line x1="634.10" y1="164.56" x2="636.50" y2="164.56" stroke="#4a4a4a" stroke-width="0.75"/>
<line x1="639.80" y1="163.95" x2="639.80" y2="132.90" stroke="#4a4a4a" stroke-width="0.75"/>
<line x1="638.60" y1="132.90" x2="641.00" y2="132.90" stroke="#4a4a4a" stroke-width="0.75"/>
<rect x="649.05" y="176.58" width="4.50" height="39.62" fill="url(#gb)"/>
<rect x="653.55" y="202.71" width="4.50" height="13.49" fill="url(#gr)"/>
<rect x="658.05" y="173.64" width="4.50" height="42.56" fill="url(#gg)"/>
<line x1="651.30" y1="176.58" x2="651.30" y2="136.53" stroke="#4a4a4a" stroke-width="0.75"/>
<line x1="650.10" y1="136.53" x2="652.50" y2="136.53" stroke="#4a4a4a" stroke-width="0.75"/>
<line x1="655.80" y1="202.71" x2="655.80" y2="162.31" stroke="#4a4a4a" stroke-width="0.75"/>
<line x1="654.60" y1="162.31" x2="657.00" y2="162.31" stroke="#4a4a4a" stroke-width="0.75"/>
<line x1="660.30" y1="173.64" x2="660.30" y2="145.70" stroke="#4a4a4a" stroke-width="0.75"/>
<line x1="659.10" y1="145.70" x2="661.50" y2="145.70" stroke="#4a4a4a" stroke-width="0.75"/>
<line x1="29.60" y1="253.50" x2="29.60" y2="469.10" stroke="#c4c4c4" stroke-width="1"/>
<line x1="27.40" y1="469.10" x2="29.60" y2="469.10" stroke="#c4c4c4" stroke-width="1"/>
<text x="25.00" y="470.76" font-size="4.6" font-weight="bold" text-anchor="end" fill="#1e2130">-2</text>
<line x1="27.40" y1="438.30" x2="29.60" y2="438.30" stroke="#c4c4c4" stroke-width="1"/>
<text x="25.00" y="439.96" font-size="4.6" font-weight="bold" text-anchor="end" fill="#1e2130">-1</text>
<line x1="27.40" y1="407.50" x2="29.60" y2="407.50" stroke="#c4c4c4" stroke-width="1"/>
<text x="25.00" y="409.16" font-size="4.6" font-weight="bold" text-anchor="end" fill="#1e2130">0</text>
<line x1="27.40" y1="376.70" x2="29.60" y2="376.70" stroke="#c4c4c4" stroke-width="1"/>
<text x="25.00" y="378.36" font-size="4.6" font-weight="bold" text-anchor="end" fill="#1e2130">1</text>
<line x1="27.40" y1="345.90" x2="29.60" y2="345.90" stroke="#c4c4c4" stroke-width="1"/>
<text x="25.00" y="347.56" font-size="4.6" font-weight="bold" text-anchor="end" fill="#1e2130">2</text>
<line x1="27.40" y1="315.10" x2="29.60" y2="315.10" stroke="#c4c4c4" stroke-width="1"/>
<text x="25.00" y="316.76" font-size="4.6" font-weight="bold" text-anchor="end" fill="#1e2130">3</text>
<line x1="27.40" y1="284.30" x2="29.60" y2="284.30" stroke="#c4c4c4" stroke-width="1"/>
<text x="25.00" y="285.96" font-size="4.6" font-weight="bold" text-anchor="end" fill="#1e2130">4</text>
<line x1="27.40" y1="253.50" x2="29.60" y2="253.50" stroke="#c4c4c4" stroke-width="1"/>
<text x="25.00" y="255.16" font-size="4.6" font-weight="bold" text-anchor="end" fill="#1e2130">5</text>
<rect x="33.99" y="376.70" width="6.00" height="64.06" fill="#ce5e6e"/>
<rect x="39.99" y="370.54" width="6.00" height="6.16" fill="#bbcc95"/>
<rect x="54.77" y="376.70" width="6.00" height="81.00" fill="#ce5e6e"/>
<rect x="60.77" y="376.70" width="6.00" height="12.94" fill="#bbcc95"/>
<rect x="75.55" y="307.40" width="6.00" height="69.30" fill="#ce5e6e"/>
<rect x="81.55" y="376.70" width="6.00" height="42.50" fill="#bbcc95"/>
<rect x="96.33" y="288.30" width="6.00" height="88.40" fill="#ce5e6e"/>
<rect x="102.33" y="376.70" width="6.00" height="77.62" fill="#bbcc95"/>
<rect x="117.10" y="330.50" width="6.00" height="46.20" fill="#ce5e6e"/>
<rect x="123.10" y="376.70" width="6.00" height="20.64" fill="#bbcc95"/>
<rect x="137.88" y="352.68" width="6.00" height="24.02" fill="#ce5e6e"/>
<rect x="143.88" y="376.70" width="6.00" height="48.36" fill="#bbcc95"/>
<rect x="158.66" y="376.70" width="6.00" height="19.40" fill="#ce5e6e"/>
<rect x="164.66" y="376.70" width="6.00" height="18.48" fill="#bbcc95"/>
<rect x="179.44" y="376.70" width="6.00" height="37.58" fill="#ce5e6e"/>
<rect x="185.44" y="376.70" width="6.00" height="27.72" fill="#bbcc95"/>
<rect x="200.22" y="316.95" width="6.00" height="59.75" fill="#ce5e6e"/>
<rect x="206.22" y="376.70" width="6.00" height="51.44" fill="#bbcc95"/>
<rect x="221.00" y="274.14" width="6.00" height="102.56" fill="#ce5e6e"/>
<rect x="227.00" y="376.70" width="6.00" height="19.40" fill="#bbcc95"/>
<rect x="241.77" y="280.60" width="6.00" height="96.10" fill="#ce5e6e"/>
<rect x="247.77" y="376.70" width="6.00" height="89.94" fill="#bbcc95"/>
<rect x="262.55" y="352.06" width="6.00" height="24.64" fill="#ce5e6e"/>
<rect x="268.55" y="376.70" width="6.00" height="59.75" fill="#bbcc95"/>
<rect x="283.33" y="331.12" width="6.00" height="45.58" fill="#ce5e6e"/>
<rect x="289.33" y="324.03" width="6.00" height="52.67" fill="#bbcc95"/>
<rect x="304.11" y="337.58" width="6.00" height="39.12" fill="#ce5e6e"/>
<rect x="310.11" y="320.95" width="6.00" height="55.75" fill="#bbcc95"/>
<line x1="29.60" y1="376.70" x2="320.50" y2="376.70" stroke="#c4c4c4" stroke-width="1"/>
<line x1="29.60" y1="376.70" x2="29.60" y2="378.70" stroke="#c4c4c4" stroke-width="0.8"/>
<line x1="50.38" y1="376.70" x2="50.38" y2="378.70" stroke="#c4c4c4" stroke-width="0.8"/>
<line x1="71.16" y1="376.70" x2="71.16" y2="378.70" stroke="#c4c4c4" stroke-width="0.8"/>
<line x1="91.94" y1="376.70" x2="91.94" y2="378.70" stroke="#c4c4c4" stroke-width="0.8"/>
<line x1="112.71" y1="376.70" x2="112.71" y2="378.70" stroke="#c4c4c4" stroke-width="0.8"/>
<line x1="133.49" y1="376.70" x2="133.49" y2="378.70" stroke="#c4c4c4" stroke-width="0.8"/>
<line x1="154.27" y1="376.70" x2="154.27" y2="378.70" stroke="#c4c4c4" stroke-width="0.8"/>
<line x1="175.05" y1="376.70" x2="175.05" y2="378.70" stroke="#c4c4c4" stroke-width="0.8"/>
<line x1="195.83" y1="376.70" x2="195.83" y2="378.70" stroke="#c4c4c4" stroke-width="0.8"/>
<line x1="216.61" y1="376.70" x2="216.61" y2="378.70" stroke="#c4c4c4" stroke-width="0.8"/>
<line x1="237.39" y1="376.70" x2="237.39" y2="378.70" stroke="#c4c4c4" stroke-width="0.8"/>
<line x1="258.16" y1="376.70" x2="258.16" y2="378.70" stroke="#c4c4c4" stroke-width="0.8"/>
<line x1="278.94" y1="376.70" x2="278.94" y2="378.70" stroke="#c4c4c4" stroke-width="0.8"/>
<line x1="299.72" y1="376.70" x2="299.72" y2="378.70" stroke="#c4c4c4" stroke-width="0.8"/>
<line x1="320.50" y1="376.70" x2="320.50" y2="378.70" stroke="#c4c4c4" stroke-width="0.8"/>
<line x1="375.80" y1="253.30" x2="375.80" y2="468.45" stroke="#c4c4c4" stroke-width="1"/>
<line x1="373.60" y1="468.45" x2="375.80" y2="468.45" stroke="#c4c4c4" stroke-width="1"/>
<text x="371.40" y="470.11" font-size="4.6" font-weight="bold" text-anchor="end" fill="#1e2130">-6</text>
<line x1="373.60" y1="451.90" x2="375.80" y2="451.90" stroke="#c4c4c4" stroke-width="1"/>
<text x="371.40" y="453.56" font-size="4.6" font-weight="bold" text-anchor="end" fill="#1e2130">-5</text>
<line x1="373.60" y1="435.35" x2="375.80" y2="435.35" stroke="#c4c4c4" stroke-width="1"/>
<text x="371.40" y="437.01" font-size="4.6" font-weight="bold" text-anchor="end" fill="#1e2130">-4</text>
<line x1="373.60" y1="418.80" x2="375.80" y2="418.80" stroke="#c4c4c4" stroke-width="1"/>
<text x="371.40" y="420.46" font-size="4.6" font-weight="bold" text-anchor="end" fill="#1e2130">-3</text>
<line x1="373.60" y1="402.25" x2="375.80" y2="402.25" stroke="#c4c4c4" stroke-width="1"/>
<text x="371.40" y="403.91" font-size="4.6" font-weight="bold" text-anchor="end" fill="#1e2130">-2</text>
<line x1="373.60" y1="385.70" x2="375.80" y2="385.70" stroke="#c4c4c4" stroke-width="1"/>
<text x="371.40" y="387.36" font-size="4.6" font-weight="bold" text-anchor="end" fill="#1e2130">-1</text>
<line x1="373.60" y1="369.15" x2="375.80" y2="369.15" stroke="#c4c4c4" stroke-width="1"/>
<text x="371.40" y="370.81" font-size="4.6" font-weight="bold" text-anchor="end" fill="#1e2130">0</text>
<line x1="373.60" y1="352.60" x2="375.80" y2="352.60" stroke="#c4c4c4" stroke-width="1"/>
<text x="371.40" y="354.26" font-size="4.6" font-weight="bold" text-anchor="end" fill="#1e2130">1</text>
<line x1="373.60" y1="336.05" x2="375.80" y2="336.05" stroke="#c4c4c4" stroke-width="1"/>
<text x="371.40" y="337.71" font-size="4.6" font-weight="bold" text-anchor="end" fill="#1e2130">2</text>
<line x1="373.60" y1="319.50" x2="375.80" y2="319.50" stroke="#c4c4c4" stroke-width="1"/>
<text x="371.40" y="321.16" font-size="4.6" font-weight="bold" text-anchor="end" fill="#1e2130">3</text>
<line x1="373.60" y1="302.95" x2="375.80" y2="302.95" stroke="#c4c4c4" stroke-width="1"/>
<text x="371.40" y="304.61" font-size="4.6" font-weight="bold" text-anchor="end" fill="#1e2130">4</text>
<line x1="373.60" y1="286.40" x2="375.80" y2="286.40" stroke="#c4c4c4" stroke-width="1"/>
<text x="371.40" y="288.06" font-size="4.6" font-weight="bold" text-anchor="end" fill="#1e2130">5</text>
<line x1="373.60" y1="269.85" x2="375.80" y2="269.85" stroke="#c4c4c4" stroke-width="1"/>
<text x="371.40" y="271.51" font-size="4.6" font-weight="bold" text-anchor="end" fill="#1e2130">6</text>
<line x1="373.60" y1="253.30" x2="375.80" y2="253.30" stroke="#c4c4c4" stroke-width="1"/>
<text x="371.40" y="254.96" font-size="4.6" font-weight="bold" text-anchor="end" fill="#1e2130">7</text>
<rect x="380.52" y="352.60" width="5.80" height="49.15" fill="#ce5e6e"/>
<rect x="386.32" y="352.60" width="5.80" height="5.46" fill="#bbcc95"/>
<rect x="401.56" y="352.60" width="5.80" height="92.35" fill="#ce5e6e"/>
<rect x="407.36" y="347.64" width="5.80" height="4.96" fill="#bbcc95"/>
<rect x="422.61" y="335.39" width="5.80" height="17.21" fill="#ce5e6e"/>
<rect x="428.41" y="352.60" width="5.80" height="35.09" fill="#bbcc95"/>
<rect x="443.65" y="337.37" width="5.80" height="15.23" fill="#ce5e6e"/>
<rect x="449.45" y="352.60" width="5.80" height="9.43" fill="#bbcc95"/>
<rect x="464.69" y="352.60" width="5.80" height="88.87" fill="#ce5e6e"/>
<rect x="470.49" y="352.60" width="5.80" height="1.99" fill="#bbcc95"/>
<rect x="485.74" y="352.60" width="5.80" height="33.93" fill="#ce5e6e"/>
<rect x="491.54" y="352.60" width="5.80" height="11.25" fill="#bbcc95"/>
<rect x="506.78" y="352.60" width="5.80" height="30.45" fill="#ce5e6e"/>
<rect x="512.58" y="352.60" width="5.80" height="10.43" fill="#bbcc95"/>
<rect x="527.82" y="352.60" width="5.80" height="24.00" fill="#ce5e6e"/>
<rect x="533.62" y="352.60" width="5.80" height="13.24" fill="#bbcc95"/>
<rect x="548.86" y="331.25" width="5.80" height="21.35" fill="#ce5e6e"/>
<rect x="554.66" y="352.60" width="5.80" height="2.65" fill="#bbcc95"/>
<rect x="569.91" y="275.15" width="5.80" height="77.45" fill="#ce5e6e"/>
<rect x="575.71" y="352.60" width="5.80" height="49.32" fill="#bbcc95"/>
<rect x="590.95" y="311.23" width="5.80" height="41.38" fill="#ce5e6e"/>
<rect x="596.75" y="352.60" width="5.80" height="13.24" fill="#bbcc95"/>
<rect x="611.99" y="326.95" width="5.80" height="25.65" fill="#ce5e6e"/>
<rect x="617.79" y="352.60" width="5.80" height="42.04" fill="#bbcc95"/>
<rect x="633.04" y="352.60" width="5.80" height="3.64" fill="#ce5e6e"/>
<rect x="638.84" y="322.98" width="5.80" height="29.62" fill="#bbcc95"/>
<rect x="654.08" y="344.49" width="5.80" height="8.11" fill="#ce5e6e"/>
<rect x="659.88" y="291.37" width="5.80" height="61.24" fill="#bbcc95"/>
<line x1="375.80" y1="352.60" x2="670.40" y2="352.60" stroke="#c4c4c4" stroke-width="1"/>
<line x1="375.80" y1="352.60" x2="375.80" y2="354.60" stroke="#c4c4c4" stroke-width="0.8"/>
<line x1="396.84" y1="352.60" x2="396.84" y2="354.60" stroke="#c4c4c4" stroke-width="0.8"/>
<line x1="417.89" y1="352.60" x2="417.89" y2="354.60" stroke="#c4c4c4" stroke-width="0.8"/>
<line x1="438.93" y1="352.60" x2="438.93" y2="354.60" stroke="#c4c4c4" stroke-width="0.8"/>
<line x1="459.97" y1="352.60" x2="459.97" y2="354.60" stroke="#c4c4c4" stroke-width="0.8"/>
<line x1="481.01" y1="352.60" x2="481.01" y2="354.60" stroke="#c4c4c4" stroke-width="0.8"/>
<line x1="502.06" y1="352.60" x2="502.06" y2="354.60" stroke="#c4c4c4" stroke-width="0.8"/>
<line x1="523.10" y1="352.60" x2="523.10" y2="354.60" stroke="#c4c4c4" stroke-width="0.8"/>
<line x1="544.14" y1="352.60" x2="544.14" y2="354.60" stroke="#c4c4c4" stroke-width="0.8"/>
<line x1="565.19" y1="352.60" x2="565.19" y2="354.60" stroke="#c4c4c4" stroke-width="0.8"/>
<line x1="586.23" y1="352.60" x2="586.23" y2="354.60" stroke="#c4c4c4" stroke-width="0.8"/>
<line x1="607.27" y1="352.60" x2="607.27" y2="354.60" stroke="#c4c4c4" stroke-width="0.8"/>
<line x1="628.31" y1="352.60" x2="628.31" y2="354.60" stroke="#c4c4c4" stroke-width="0.8"/>
<line x1="649.36" y1="352.60" x2="649.36" y2="354.60" stroke="#c4c4c4" stroke-width="0.8"/>
<line x1="670.40" y1="352.60" x2="670.40" y2="354.60" stroke="#c4c4c4" stroke-width="0.8"/>
<text x="44.20" y="230.1" font-size="5.5" font-weight="bold" font-style="italic" text-anchor="middle" textLength="17.40" lengthAdjust="spacingAndGlyphs" fill="#1e2130" stroke="#1e2130" stroke-width="0.12">FOXG1</text>
<text x="64.90" y="230.1" font-size="5.5" font-weight="bold" font-style="italic" text-anchor="middle" textLength="13.40" lengthAdjust="spacingAndGlyphs" fill="#1e2130" stroke="#1e2130" stroke-width="0.12">SOX3</text>
<text x="86.05" y="230.1" font-size="5.5" font-weight="bold" font-style="italic" text-anchor="middle" textLength="16.30" lengthAdjust="spacingAndGlyphs" fill="#1e2130" stroke="#1e2130" stroke-width="0.12">STAT4</text>
<text x="107.00" y="230.1" font-size="5.5" font-weight="bold" font-style="italic" text-anchor="middle" textLength="12.40" lengthAdjust="spacingAndGlyphs" fill="#1e2130" stroke="#1e2130" stroke-width="0.12">RPS6</text>
<text x="127.40" y="230.1" font-size="5.5" font-weight="bold" font-style="italic" text-anchor="middle" textLength="15.20" lengthAdjust="spacingAndGlyphs" fill="#1e2130" stroke="#1e2130" stroke-width="0.12">RBM9</text>
<text x="148.20" y="230.1" font-size="5.5" font-weight="bold" font-style="italic" text-anchor="middle" textLength="18.80" lengthAdjust="spacingAndGlyphs" fill="#1e2130" stroke="#1e2130" stroke-width="0.12">RPL10A</text>
<text x="169.35" y="230.1" font-size="5.5" font-weight="bold" font-style="italic" text-anchor="middle" textLength="15.90" lengthAdjust="spacingAndGlyphs" fill="#1e2130" stroke="#1e2130" stroke-width="0.12">RPS17</text>
<text x="189.85" y="230.1" font-size="5.5" font-weight="bold" font-style="italic" text-anchor="middle" textLength="15.90" lengthAdjust="spacingAndGlyphs" fill="#1e2130" stroke="#1e2130" stroke-width="0.12">RPL29</text>
<text x="210.70" y="230.1" font-size="5.5" font-weight="bold" font-style="italic" text-anchor="middle" textLength="18.80" lengthAdjust="spacingAndGlyphs" fill="#1e2130" stroke="#1e2130" stroke-width="0.12">WNT5A</text>
<text x="231.50" y="230.1" font-size="5.5" font-weight="bold" font-style="italic" text-anchor="middle" textLength="16.60" lengthAdjust="spacingAndGlyphs" fill="#1e2130" stroke="#1e2130" stroke-width="0.12">HSP90</text>
<text x="252.30" y="230.1" font-size="5.5" font-weight="bold" font-style="italic" text-anchor="middle" textLength="21.80" lengthAdjust="spacingAndGlyphs" fill="#1e2130" stroke="#1e2130" stroke-width="0.12">TOMM 7</text>
<text x="272.85" y="230.1" font-size="5.5" font-weight="bold" font-style="italic" text-anchor="middle" textLength="14.70" lengthAdjust="spacingAndGlyphs" fill="#1e2130" stroke="#1e2130" stroke-width="0.12">EIF5A</text>
<text x="293.75" y="230.1" font-size="5.5" font-weight="bold" font-style="italic" text-anchor="middle" textLength="14.90" lengthAdjust="spacingAndGlyphs" fill="#1e2130" stroke="#1e2130" stroke-width="0.12">OGG1</text>
<text x="314.30" y="230.1" font-size="5.5" font-weight="bold" font-style="italic" text-anchor="middle" textLength="17.00" lengthAdjust="spacingAndGlyphs" fill="#1e2130" stroke="#1e2130" stroke-width="0.12">PARP1</text>
<text x="388.95" y="225.8" font-size="5.1" font-weight="bold" font-style="italic" text-anchor="middle" textLength="17.10" lengthAdjust="spacingAndGlyphs" fill="#1e2130" stroke="#1e2130" stroke-width="0.12">FOXG1</text>
<text x="409.55" y="225.8" font-size="5.1" font-weight="bold" font-style="italic" text-anchor="middle" textLength="12.90" lengthAdjust="spacingAndGlyphs" fill="#1e2130" stroke="#1e2130" stroke-width="0.12">SOX3</text>
<text x="430.35" y="225.8" font-size="5.1" font-weight="bold" font-style="italic" text-anchor="middle" textLength="15.90" lengthAdjust="spacingAndGlyphs" fill="#1e2130" stroke="#1e2130" stroke-width="0.12">STAT4</text>
<text x="450.65" y="225.8" font-size="5.1" font-weight="bold" font-style="italic" text-anchor="middle" textLength="13.30" lengthAdjust="spacingAndGlyphs" fill="#1e2130" stroke="#1e2130" stroke-width="0.12">RPS6</text>
<text x="471.55" y="225.8" font-size="5.1" font-weight="bold" font-style="italic" text-anchor="middle" textLength="15.70" lengthAdjust="spacingAndGlyphs" fill="#1e2130" stroke="#1e2130" stroke-width="0.12">RBM9</text>
<text x="491.20" y="225.8" font-size="5.1" font-weight="bold" font-style="italic" text-anchor="middle" textLength="17.80" lengthAdjust="spacingAndGlyphs" fill="#1e2130" stroke="#1e2130" stroke-width="0.12">RPL10A</text>
<text x="512.35" y="225.8" font-size="5.1" font-weight="bold" font-style="italic" text-anchor="middle" textLength="16.30" lengthAdjust="spacingAndGlyphs" fill="#1e2130" stroke="#1e2130" stroke-width="0.12">RPS17</text>
<text x="532.40" y="225.8" font-size="5.1" font-weight="bold" font-style="italic" text-anchor="middle" textLength="15.60" lengthAdjust="spacingAndGlyphs" fill="#1e2130" stroke="#1e2130" stroke-width="0.12">RPL29</text>
<text x="553.30" y="225.8" font-size="5.1" font-weight="bold" font-style="italic" text-anchor="middle" textLength="19.20" lengthAdjust="spacingAndGlyphs" fill="#1e2130" stroke="#1e2130" stroke-width="0.12">WNT5A</text>
<text x="573.95" y="225.8" font-size="5.1" font-weight="bold" font-style="italic" text-anchor="middle" textLength="16.70" lengthAdjust="spacingAndGlyphs" fill="#1e2130" stroke="#1e2130" stroke-width="0.12">HSP90</text>
<text x="594.10" y="225.8" font-size="5.1" font-weight="bold" font-style="italic" text-anchor="middle" textLength="21.00" lengthAdjust="spacingAndGlyphs" fill="#1e2130" stroke="#1e2130" stroke-width="0.12">TOMM 7</text>
<text x="614.45" y="225.8" font-size="5.1" font-weight="bold" font-style="italic" text-anchor="middle" textLength="14.30" lengthAdjust="spacingAndGlyphs" fill="#1e2130" stroke="#1e2130" stroke-width="0.12">EIF5A</text>
<text x="634.65" y="225.8" font-size="5.1" font-weight="bold" font-style="italic" text-anchor="middle" textLength="14.30" lengthAdjust="spacingAndGlyphs" fill="#1e2130" stroke="#1e2130" stroke-width="0.12">OGG1</text>
<text x="655.35" y="225.8" font-size="5.1" font-weight="bold" font-style="italic" text-anchor="middle" textLength="16.10" lengthAdjust="spacingAndGlyphs" fill="#1e2130" stroke="#1e2130" stroke-width="0.12">PARP1</text>
<text x="39.45" y="402.1" font-size="5.0" font-weight="bold" font-style="italic" text-anchor="middle" textLength="16.30" lengthAdjust="spacingAndGlyphs" fill="#1e2130" stroke="#1e2130" stroke-width="0.12">FOXG1</text>
<text x="60.70" y="402.1" font-size="5.0" font-weight="bold" font-style="italic" text-anchor="middle" textLength="13.40" lengthAdjust="spacingAndGlyphs" fill="#1e2130" stroke="#1e2130" stroke-width="0.12">SOX3</text>
<text x="81.25" y="402.1" font-size="5.0" font-weight="bold" font-style="italic" text-anchor="middle" textLength="16.10" lengthAdjust="spacingAndGlyphs" fill="#1e2130" stroke="#1e2130" stroke-width="0.12">STAT4</text>
<text x="102.10" y="402.1" font-size="5.0" font-weight="bold" font-style="italic" text-anchor="middle" textLength="13.00" lengthAdjust="spacingAndGlyphs" fill="#1e2130" stroke="#1e2130" stroke-width="0.12">RPS6</text>
<text x="122.95" y="402.1" font-size="5.0" font-weight="bold" font-style="italic" text-anchor="middle" textLength="14.90" lengthAdjust="spacingAndGlyphs" fill="#1e2130" stroke="#1e2130" stroke-width="0.12">RBM9</text>
<text x="143.55" y="402.1" font-size="5.0" font-weight="bold" font-style="italic" text-anchor="middle" textLength="18.70" lengthAdjust="spacingAndGlyphs" fill="#1e2130" stroke="#1e2130" stroke-width="0.12">RPL10A</text>
<text x="164.75" y="402.1" font-size="5.0" font-weight="bold" font-style="italic" text-anchor="middle" textLength="16.10" lengthAdjust="spacingAndGlyphs" fill="#1e2130" stroke="#1e2130" stroke-width="0.12">RPS17</text>
<text x="185.60" y="402.1" font-size="5.0" font-weight="bold" font-style="italic" text-anchor="middle" textLength="15.20" lengthAdjust="spacingAndGlyphs" fill="#1e2130" stroke="#1e2130" stroke-width="0.12">RPL29</text>
<text x="206.40" y="402.1" font-size="5.0" font-weight="bold" font-style="italic" text-anchor="middle" textLength="18.80" lengthAdjust="spacingAndGlyphs" fill="#1e2130" stroke="#1e2130" stroke-width="0.12">WNT5A</text>
<text x="226.85" y="402.1" font-size="5.0" font-weight="bold" font-style="italic" text-anchor="middle" textLength="15.90" lengthAdjust="spacingAndGlyphs" fill="#1e2130" stroke="#1e2130" stroke-width="0.12">HSP90</text>
<text x="248.25" y="402.1" font-size="5.0" font-weight="bold" font-style="italic" text-anchor="middle" textLength="20.70" lengthAdjust="spacingAndGlyphs" fill="#1e2130" stroke="#1e2130" stroke-width="0.12">TOMM 7</text>
<text x="268.55" y="402.1" font-size="5.0" font-weight="bold" font-style="italic" text-anchor="middle" textLength="13.70" lengthAdjust="spacingAndGlyphs" fill="#1e2130" stroke="#1e2130" stroke-width="0.12">EIF5A</text>
<text x="289.45" y="402.1" font-size="5.0" font-weight="bold" font-style="italic" text-anchor="middle" textLength="14.70" lengthAdjust="spacingAndGlyphs" fill="#1e2130" stroke="#1e2130" stroke-width="0.12">OGG1</text>
<text x="310.20" y="402.1" font-size="5.0" font-weight="bold" font-style="italic" text-anchor="middle" textLength="15.20" lengthAdjust="spacingAndGlyphs" fill="#1e2130" stroke="#1e2130" stroke-width="0.12">PARP1</text>
<text x="385.90" y="378.1" font-size="5.0" font-weight="bold" font-style="italic" text-anchor="middle" textLength="16.20" lengthAdjust="spacingAndGlyphs" fill="#1e2130" stroke="#1e2130" stroke-width="0.12">FOXG1</text>
<text x="407.75" y="378.1" font-size="5.0" font-weight="bold" font-style="italic" text-anchor="middle" textLength="13.30" lengthAdjust="spacingAndGlyphs" fill="#1e2130" stroke="#1e2130" stroke-width="0.12">SOX3</text>
<text x="428.30" y="378.1" font-size="5.0" font-weight="bold" font-style="italic" text-anchor="middle" textLength="15.20" lengthAdjust="spacingAndGlyphs" fill="#1e2130" stroke="#1e2130" stroke-width="0.12">STAT4</text>
<text x="449.40" y="378.1" font-size="5.0" font-weight="bold" font-style="italic" text-anchor="middle" textLength="12.80" lengthAdjust="spacingAndGlyphs" fill="#1e2130" stroke="#1e2130" stroke-width="0.12">RPS6</text>
<text x="470.75" y="378.1" font-size="5.0" font-weight="bold" font-style="italic" text-anchor="middle" textLength="15.50" lengthAdjust="spacingAndGlyphs" fill="#1e2130" stroke="#1e2130" stroke-width="0.12">RBM9</text>
<text x="491.05" y="378.1" font-size="5.0" font-weight="bold" font-style="italic" text-anchor="middle" textLength="18.10" lengthAdjust="spacingAndGlyphs" fill="#1e2130" stroke="#1e2130" stroke-width="0.12">RPL10A</text>
<text x="512.55" y="378.1" font-size="5.0" font-weight="bold" font-style="italic" text-anchor="middle" textLength="15.90" lengthAdjust="spacingAndGlyphs" fill="#1e2130" stroke="#1e2130" stroke-width="0.12">RPS17</text>
<text x="533.40" y="378.1" font-size="5.0" font-weight="bold" font-style="italic" text-anchor="middle" textLength="15.20" lengthAdjust="spacingAndGlyphs" fill="#1e2130" stroke="#1e2130" stroke-width="0.12">RPL29</text>
<text x="554.80" y="378.1" font-size="5.0" font-weight="bold" font-style="italic" text-anchor="middle" textLength="19.00" lengthAdjust="spacingAndGlyphs" fill="#1e2130" stroke="#1e2130" stroke-width="0.12">WNT5A</text>
<text x="575.45" y="378.1" font-size="5.0" font-weight="bold" font-style="italic" text-anchor="middle" textLength="15.70" lengthAdjust="spacingAndGlyphs" fill="#1e2130" stroke="#1e2130" stroke-width="0.12">HSP90</text>
<text x="596.75" y="378.1" font-size="5.0" font-weight="bold" font-style="italic" text-anchor="middle" textLength="20.30" lengthAdjust="spacingAndGlyphs" fill="#1e2130" stroke="#1e2130" stroke-width="0.12">TOMM 7</text>
<text x="617.30" y="378.1" font-size="5.0" font-weight="bold" font-style="italic" text-anchor="middle" textLength="13.80" lengthAdjust="spacingAndGlyphs" fill="#1e2130" stroke="#1e2130" stroke-width="0.12">EIF5A</text>
<text x="638.40" y="378.1" font-size="5.0" font-weight="bold" font-style="italic" text-anchor="middle" textLength="14.40" lengthAdjust="spacingAndGlyphs" fill="#1e2130" stroke="#1e2130" stroke-width="0.12">OGG1</text>
<text x="659.30" y="378.1" font-size="5.0" font-weight="bold" font-style="italic" text-anchor="middle" textLength="16.40" lengthAdjust="spacingAndGlyphs" fill="#1e2130" stroke="#1e2130" stroke-width="0.12">PARP1</text>
<text x="0" y="0" transform="translate(15.4,112.5) rotate(-90)" font-size="7.9" font-weight="bold" text-anchor="middle" dominant-baseline="central" textLength="105" lengthAdjust="spacingAndGlyphs" fill="#1e2130" stroke="#1e2130" stroke-width="0.22">RELATIVE GENE EXPRESSION</text>
<text x="0" y="0" transform="translate(362.2,111.7) rotate(-90)" font-size="7.8" font-weight="bold" text-anchor="middle" dominant-baseline="central" textLength="100" lengthAdjust="spacingAndGlyphs" fill="#1e2130" stroke="#1e2130" stroke-width="0.22">RELATIVE GENE EXPRESSION</text>
<text x="0" y="0" transform="translate(15.6,361.3) rotate(-90)" font-size="7.4" font-weight="bold" text-anchor="middle" dominant-baseline="central" textLength="78" lengthAdjust="spacingAndGlyphs" fill="#1e2130" stroke="#1e2130" stroke-width="0.22">AXIS FOLD CHANGE (AFC)</text>
<text x="0" y="0" transform="translate(361.2,361.2) rotate(-90)" font-size="7.4" font-weight="bold" text-anchor="middle" dominant-baseline="central" textLength="78" lengthAdjust="spacingAndGlyphs" fill="#1e2130" stroke="#1e2130" stroke-width="0.22">AXIS FOLD CHANGE (AFC)</text>
<rect x="284.6" y="59.0" width="4.2" height="4.2" fill="url(#gb)"/>
<text x="290.6" y="63.3" font-size="7.0" font-weight="bold" textLength="26.4" lengthAdjust="spacingAndGlyphs" fill="#1e2130">Pre- Yoga</text>
<rect x="284.6" y="70.2" width="4.2" height="4.2" fill="url(#gr)"/>
<text x="290.6" y="74.3" font-size="7.0" font-weight="bold" textLength="28.2" lengthAdjust="spacingAndGlyphs" fill="#1e2130">Post-Yoga</text>
<rect x="284.6" y="81.0" width="4.2" height="4.2" fill="url(#gg)"/>
<text x="290.6" y="85.2" font-size="7.0" font-weight="bold" textLength="21.2" lengthAdjust="spacingAndGlyphs" fill="#1e2130">Control</text>
<rect x="641.8" y="68.8" width="3.2" height="3.2" fill="url(#gb)"/>
<text x="647.0" y="72.3" font-size="5.8" font-weight="bold" textLength="27" lengthAdjust="spacingAndGlyphs" fill="#1e2130">Pre- Yoga</text>
<rect x="641.8" y="80.0" width="3.2" height="3.2" fill="url(#gr)"/>
<text x="647.0" y="83.3" font-size="5.8" font-weight="bold" textLength="28.2" lengthAdjust="spacingAndGlyphs" fill="#1e2130">Post-Yoga</text>
<rect x="641.8" y="91.3" width="3.2" height="3.2" fill="url(#gg)"/>
<text x="647.0" y="94.6" font-size="5.8" font-weight="bold" textLength="21" lengthAdjust="spacingAndGlyphs" fill="#1e2130">Control</text>
<rect x="277.0" y="285.8" width="3.2" height="3.2" fill="#ce5e6e"/>
<text x="281.6" y="289.0" font-size="5.2" font-weight="bold" textLength="30.3" lengthAdjust="spacingAndGlyphs" fill="#1e2130">Baseline AFC</text>
<rect x="277.0" y="293.8" width="3.2" height="3.2" fill="#bbcc95"/>
<text x="281.6" y="296.8" font-size="5.2" font-weight="bold" textLength="33.9" lengthAdjust="spacingAndGlyphs" fill="#1e2130">Post-Yoga AFC</text>
<rect x="637.2" y="267.9" width="3.8" height="3.8" fill="#ce5e6e"/>
<text x="642.5" y="271.8" font-size="6.5" font-weight="bold" textLength="35.5" lengthAdjust="spacingAndGlyphs" fill="#1e2130">Baseline AFC</text>
<rect x="637.2" y="280.8" width="3.8" height="3.8" fill="#bbcc95"/>
<text x="642.5" y="284.8" font-size="6.5" font-weight="bold" textLength="39.4" lengthAdjust="spacingAndGlyphs" fill="#1e2130">Post-Yoga AFC</text>
<text x="10.7" y="229.9" font-size="9.4" font-weight="bold" textLength="4.80" lengthAdjust="spacingAndGlyphs" fill="#1a2035">a</text>
<text x="357.8" y="226.4" font-size="9.4" font-weight="bold" textLength="5.80" lengthAdjust="spacingAndGlyphs" fill="#1a2035">b</text>
<text x="8.3" y="460.1" font-size="8.5" font-weight="bold" textLength="4.20" lengthAdjust="spacingAndGlyphs" fill="#1a2035">c</text>
<text x="354.6" y="466.7" font-size="8.3" font-weight="bold" textLength="5.00" lengthAdjust="spacingAndGlyphs" fill="#1a2035">d</text>
</svg>
</body></html>
